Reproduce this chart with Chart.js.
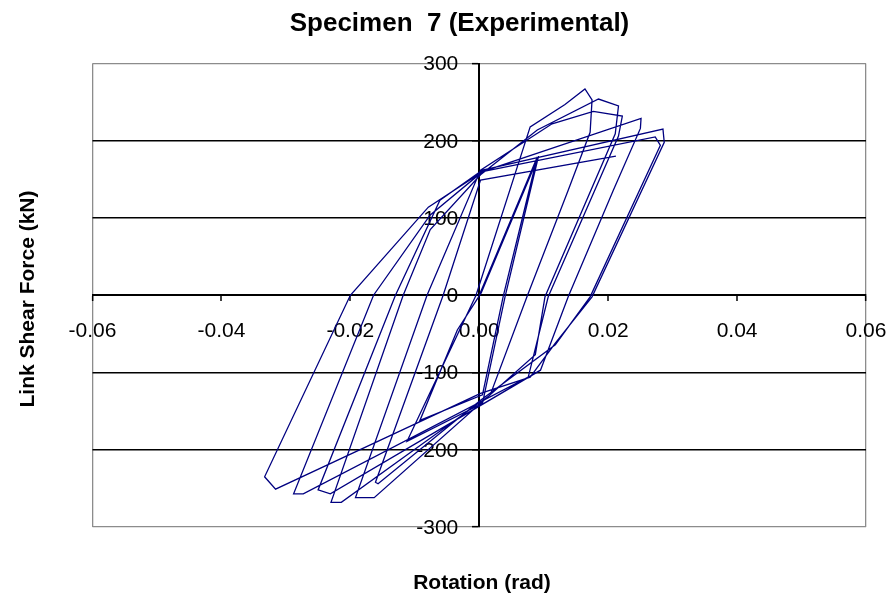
<!DOCTYPE html>
<html><head><meta charset="utf-8">
<script src="https://cdn.jsdelivr.net/npm/chart.js@4.4.0/dist/chart.umd.min.js"></script>
<style>html,body{margin:0;padding:0;background:#fff;}</style>
</head><body>
<canvas id="c" width="894" height="601"></canvas>
<script>
const chartTitle = 'Specimen  7 (Experimental)';
const xTitle = 'Rotation (rad)';
const yTitle = 'Link Shear Force (kN)';
const xTicks = [-0.06, -0.04, -0.02, 0, 0.02, 0.04, 0.06];
const yTicks = [-300, -200, -100, 0, 100, 200, 300];

const rotation = [
  0, 0.0090, 0.0037, 0.0005, -0.0092, -0.0034, 0.0003, 0.0092, 0.0040, 0.0005,
  -0.0112, -0.0005, 0.0079, 0.0133, 0.0164, 0.0175, 0.0172, 0.0138, 0.0074, 0.0017,
  -0.0214, -0.0230, -0.0118, -0.0076, 0.0002, 0.0090, 0.0185, 0.0216, 0.0211, 0.0102,
  0.0087, -0.0163, -0.0192, -0.0081, 0.0002, 0.0113, 0.0177, 0.0222, 0.0216, 0.0107,
  0.0076, -0.0273, -0.0288, -0.0164, -0.0076, 0.0005, 0.0251, 0.0250, 0.0208, 0.0138,
  0.0095, -0.0231, -0.0250, -0.0130, -0.0061, 0.0005, 0.0285, 0.0287, 0.0175, 0.0118,
  0.0079, 0.0002, -0.0316, -0.0333, -0.0200, -0.0079, 0.0005, 0.0273, 0.0281, 0.0172,
  0.0118, 0.0002, -0.0157, -0.0161, -0.0056, 0.0002, 0.0212
];
const shear = [
  0, 179, -2, -129, -162, -45, 3, 180, -2, -140,
  -189, 0, 218, 247, 267, 253, 211, 136, -2, -129,
  -268, -268, 0, 85, 156, 214, 254, 245, 209, -2,
  -77, -262, -262, 0, 162, 222, 238, 232, 206, -2,
  -106, -257, -257, 0, 104, 160, 229, 216, 136, -2,
  -97, -257, -252, 0, 123, 162, 215, 198, -2, -62,
  -106, -127, -251, -235, 0, 114, 160, 205, 194, -2,
  -64, -136, -244, -242, 0, 149, 180
];

const FONT = "'Liberation Sans', Arial, sans-serif";
const points = rotation.map((x, i) => ({ x: x, y: shear[i] }));

const textPlugin = {
  id: 'texts',
  beforeDatasetsDraw(chart) {
    const c = chart.ctx;
    const xs = chart.scales.x, ys = chart.scales.y;
    c.save();
    c.fillStyle = '#000';
    c.font = '21px ' + FONT;
    c.textAlign = 'right';
    c.textBaseline = 'middle';
    const ax = xs.getPixelForValue(0);
    yTicks.forEach(v => c.fillText(String(v), ax - 21, ys.getPixelForValue(v) + 1));
    c.textAlign = 'center';
    c.font = 'bold 26px ' + FONT;
    c.fillText(chartTitle, 459.5, 24);
    c.font = 'bold 21px ' + FONT;
    c.fillText(xTitle, 482, 583);
    c.translate(28, 299);
    c.rotate(-Math.PI / 2);
    c.fillText(yTitle, 0, 0);
    c.restore();
  }
};

const isEdgeX = v => Math.abs(Math.abs(v) - 0.06) < 1e-9;
const isEdgeY = v => Math.abs(Math.abs(v) - 300) < 1e-9;

new Chart(document.getElementById('c'), {
  type: 'scatter',
  data: {
    datasets: [{
      data: points,
      showLine: true,
      borderColor: '#000080',
      borderWidth: 1.3,
      pointRadius: 0,
      pointHoverRadius: 0,
      fill: false,
      tension: 0
    }]
  },
  options: {
    responsive: false,
    animation: false,
    devicePixelRatio: 1,
    events: [],
    layout: { padding: { left: 92.5, right: 28, top: 63.5, bottom: 74 } },
    plugins: { legend: { display: false }, tooltip: { enabled: false }, title: { display: false } },
    scales: {
      x: {
        type: 'linear', axis: 'x', position: { y: 0 },
        min: -0.06, max: 0.06,
        afterBuildTicks: s => { s.ticks = xTicks.map(v => ({ value: v })); },
        afterFit: s => { s.paddingLeft = 0; s.paddingRight = 0; },
        grid: {
          color: c => isEdgeX(c.tick.value) ? '#8c8c8c' : 'rgba(0,0,0,0)',
          lineWidth: c => isEdgeX(c.tick.value) ? 1.3 : 0,
          drawTicks: true, tickLength: 5, tickColor: '#000', tickWidth: 1.5
        },
        border: { display: true, color: '#000', width: 2 },
        ticks: {
          font: { family: FONT, size: 21 }, color: '#000', padding: 18,
          maxRotation: 0, autoSkip: false,
          callback: v => Math.abs(v) < 1e-9 ? '0.00' : Number(v).toFixed(2)
        }
      },
      y: {
        type: 'linear', axis: 'y', position: { x: 0 },
        min: -300, max: 300,
        afterBuildTicks: s => { s.ticks = yTicks.map(v => ({ value: v })); },
        afterFit: s => { s.paddingTop = 0; s.paddingBottom = 0; },
        grid: {
          color: c => isEdgeY(c.tick.value) ? '#8c8c8c' : '#000',
          lineWidth: c => isEdgeY(c.tick.value) ? 1.3 : (c.tick.value === 0 ? 0 : 1.6),
          drawTicks: true, tickLength: 6, tickColor: '#000', tickWidth: 1.5
        },
        border: { display: true, color: '#000', width: 2 },
        ticks: { display: false }
      }
    }
  },
  plugins: [textPlugin]
});
</script>
</body></html>
